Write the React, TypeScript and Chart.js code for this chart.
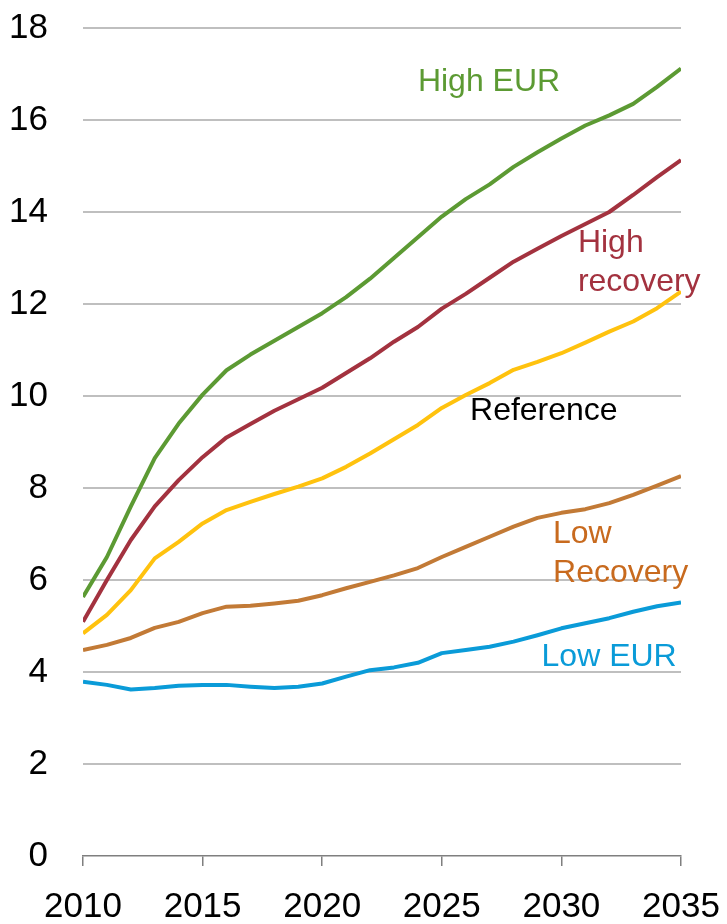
import React, { useEffect, useRef } from "react";
import { Chart, registerables } from "chart.js";

Chart.register(...registerables);

const years = [
  2010, 2011, 2012, 2013, 2014, 2015, 2016, 2017, 2018, 2019, 2020, 2021, 2022,
  2023, 2024, 2025, 2026, 2027, 2028, 2029, 2030, 2031, 2032, 2033, 2034, 2035,
];

const highEUR = [
  5.63, 6.5, 7.6, 8.65, 9.4, 10.03, 10.56, 10.9, 11.2, 11.5, 11.8, 12.15, 12.55,
  13.0, 13.45, 13.9, 14.28, 14.6, 14.98, 15.3, 15.6, 15.88, 16.1, 16.35, 16.72, 17.12,
];

const highRecovery = [
  5.09, 6.0, 6.87, 7.6, 8.17, 8.67, 9.1, 9.39, 9.68, 9.93, 10.18, 10.5, 10.82,
  11.18, 11.5, 11.9, 12.22, 12.57, 12.92, 13.2, 13.48, 13.74, 14.0, 14.37, 14.76, 15.13,
];

const reference = [
  4.84, 5.24, 5.78, 6.47, 6.83, 7.23, 7.52, 7.7, 7.87, 8.03, 8.21, 8.46, 8.75,
  9.06, 9.37, 9.74, 10.02, 10.28, 10.57, 10.74, 10.93, 11.16, 11.4, 11.62, 11.91, 12.27,
];

const lowRecovery = [
  4.48, 4.59, 4.74, 4.96, 5.09, 5.28, 5.42, 5.44, 5.49, 5.55, 5.67, 5.82, 5.96,
  6.1, 6.26, 6.5, 6.72, 6.94, 7.16, 7.35, 7.46, 7.54, 7.67, 7.85, 8.05, 8.26,
];

const lowEUR = [
  3.79, 3.72, 3.62, 3.65, 3.7, 3.72, 3.72, 3.68, 3.65, 3.68, 3.75, 3.9, 4.04,
  4.1, 4.2, 4.41, 4.48, 4.55, 4.66, 4.8, 4.95, 5.06, 5.17, 5.31, 5.43, 5.51,
];

const seriesNames = ["High EUR", "High recovery", "Reference", "Low Recovery", "Low EUR"];
const seriesColors = ["#5C9A33", "#A3323F", "#FFC20E", "#C27A36", "#0A9BD8"];

const yTicks = { min: 0, max: 18, step: 2 };
const xTicks = { min: 2010, max: 2035, step: 5 };

// Series annotations: [text lines, colour, anchor year, anchor value of first baseline]
const annotations = [
  { lines: ["High EUR"], color: "#5C9A33", x: 2024.0, y: 16.64 },
  { lines: ["High", "recovery"], color: "#A3323F", x: 2030.69, y: 13.14 },
  { lines: ["Reference"], color: "#000000", x: 2026.18, y: 9.48 },
  { lines: ["Low", "Recovery"], color: "#C86A1E", x: 2029.65, y: 6.81 },
  { lines: ["Low EUR"], color: "#0A9BD8", x: 2029.17, y: 4.12 },
];

const FONT = "'Liberation Sans', Arial, Helvetica, sans-serif";

const labelPlugin = {
  id: "seriesLabels",
  afterDatasetsDraw(chart: any) {
    const { ctx, scales } = chart;
    ctx.save();
    ctx.font = `32px ${FONT}`;
    ctx.textAlign = "left";
    ctx.textBaseline = "alphabetic";
    annotations.forEach((a) => {
      const px = scales.x.getPixelForValue(a.x);
      const py = scales.y.getPixelForValue(a.y);
      ctx.fillStyle = a.color;
      a.lines.forEach((line, i) => {
        ctx.fillText(line, px, py + i * 39);
      });
    });
    ctx.restore();
  },
};

export default function App() {
  const canvasRef = useRef<HTMLCanvasElement | null>(null);

  useEffect(() => {
    if (!canvasRef.current) return;
    const allSeries = [highEUR, highRecovery, reference, lowRecovery, lowEUR];
    const chart = new Chart(canvasRef.current, {
      type: "line",
      data: {
        datasets: allSeries.map((vals, i) => ({
          label: seriesNames[i],
          data: years.map((yr, j) => ({ x: yr, y: vals[j] })),
          borderColor: seriesColors[i],
          backgroundColor: seriesColors[i],
          borderWidth: 4,
          pointRadius: 0,
          tension: 0,
          borderJoinStyle: "round" as const,
          fill: false,
        })),
      },
      options: {
        animation: false,
        responsive: true,
        maintainAspectRatio: false,
        layout: { padding: { left: 0, right: 46, top: 28, bottom: 0 } },
        plugins: {
          legend: { display: false },
          tooltip: { enabled: false },
        },
        scales: {
          x: {
            type: "linear",
            min: xTicks.min,
            max: xTicks.max,
            ticks: {
              stepSize: xTicks.step,
              color: "#000000",
              font: { size: 35, family: FONT },
              padding: 20,
              maxRotation: 0,
              callback: (v: any) => String(v),
            },
            grid: {
              drawOnChartArea: false,
              drawTicks: true,
              tickLength: 10,
              color: "#7F7F7F",
              lineWidth: 1.5,
            },
            border: { display: true, color: "#7F7F7F", width: 1.5 },
            afterFit: (scale: any) => {
              scale.height = 68;
              scale.paddingLeft = 0;
              scale.paddingRight = 0;
            },
          },
          y: {
            type: "linear",
            min: yTicks.min,
            max: yTicks.max,
            ticks: {
              stepSize: yTicks.step,
              color: "#000000",
              font: { size: 35, family: FONT },
              padding: 35,
            },
            grid: {
              drawTicks: false,
              color: (c: any) => (c.tick && c.tick.value === 0 ? "rgba(0,0,0,0)" : "#BFBFBF"),
              lineWidth: 2,
            },
            border: { display: false },
            afterFit: (scale: any) => {
              scale.width = 83;
              scale.paddingTop = 0;
              scale.paddingBottom = 0;
            },
          },
        },
      },
      plugins: [labelPlugin],
    });
    return () => chart.destroy();
  }, []);

  return (
    <div style={{ position: "fixed", left: 0, top: 0, width: 727, height: 924, background: "#fff" }}>
      <canvas ref={canvasRef} />
    </div>
  );
}
